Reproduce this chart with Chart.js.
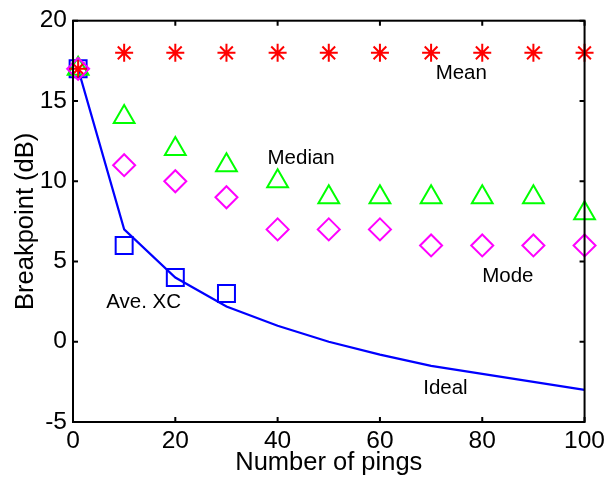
<!DOCTYPE html>
<html>
<head>
<meta charset="utf-8">
<script src="https://cdn.jsdelivr.net/npm/chart.js@4.4.0/dist/chart.umd.min.js"></script>
<style>
  body { margin: 0; background: #fff; }
  #wrap { width: 610px; height: 478px; }
</style>
</head>
<body>
<div id="wrap"><canvas id="breakChart" width="610" height="478"></canvas></div>
<script>
// values
const pings = [1, 10, 20, 30, 40, 50, 60, 70, 80, 90, 100];
const meanVals = [17, 18, 18, 18, 18, 18, 18, 18, 18, 18, 18];
const medianVals = [17, 14, 12, 11, 10, 9, 9, 9, 9, 9, 8];
const modeVals = [17, 11, 10, 9, 7, 7, 7, 6, 6, 6, 6];
const aveXcPings = [1, 10, 20, 30];
const aveXcVals = [17, 6, 4, 3];
const idealVals = [17, 7, 4, 2.2, 1, 0, -0.8, -1.5, -2, -2.5, -3];

const xTicks = [0, 20, 40, 60, 80, 100];
const yTicks = [-5, 0, 5, 10, 15, 20];

// text labels placed in data coordinates
const notes = [
    { text: 'Mean', x: 75.9, y: 16.7 },
    { text: 'Median', x: 44.6, y: 11.45 },
    { text: 'Mode', x: 85, y: 4.05 },
    { text: 'Ave. XC', x: 13.8, y: 2.45 },
    { text: 'Ideal', x: 72.8, y: -2.9 }
];

function pts(xs, ys) {
    return xs.map((x, i) => ({ x: x, y: ys[i] }));
}

const FONT = "'Liberation Sans', Arial, sans-serif";

// box + inward ticks, MATLAB style
const boxPlugin = {
    id: 'box',
    afterDatasetsDraw(chart) {
        const { ctx, chartArea: a, scales } = chart;
        ctx.save();
        ctx.strokeStyle = '#000';
        ctx.lineWidth = 2;
        ctx.beginPath();
        xTicks.forEach(v => {
            const px = scales.x.getPixelForValue(v);
            ctx.moveTo(px, a.bottom); ctx.lineTo(px, a.bottom - 5);
            ctx.moveTo(px, a.top); ctx.lineTo(px, a.top + 5);
        });
        yTicks.forEach(v => {
            const py = scales.y.getPixelForValue(v);
            ctx.moveTo(a.left, py); ctx.lineTo(a.left + 5, py);
            ctx.moveTo(a.right, py); ctx.lineTo(a.right - 5, py);
        });
        ctx.stroke();
        ctx.strokeRect(a.left, a.top, a.right - a.left, a.bottom - a.top);

        ctx.fillStyle = '#000';
        ctx.font = '20.5px ' + FONT;
        ctx.textAlign = 'center';
        ctx.textBaseline = 'middle';
        notes.forEach(n => {
            ctx.fillText(n.text, scales.x.getPixelForValue(n.x), scales.y.getPixelForValue(n.y));
        });
        ctx.restore();
    }
};

new Chart(document.getElementById('breakChart'), {
    type: 'scatter',
    data: {
        datasets: [{
            label: 'Mean',
            data: pts(pings, meanVals),
            pointStyle: 'star',
            pointRadius: 9,
            borderColor: '#ff0000',
            backgroundColor: '#ff0000',
            pointBorderWidth: 2,
            order: 2
        }, {
            label: 'Median',
            data: pts(pings, medianVals),
            pointStyle: 'triangle',
            pointRadius: 12,
            borderColor: '#00ff00',
            backgroundColor: 'rgba(0,0,0,0)',
            pointBorderWidth: 2,
            order: 3
        }, {
            label: 'Mode',
            data: pts(pings, modeVals),
            pointStyle: 'rectRot',
            pointRadius: 11,
            borderColor: '#ff00ff',
            backgroundColor: 'rgba(0,0,0,0)',
            pointBorderWidth: 2,
            order: 1
        }, {
            label: 'Ave. XC',
            data: pts(aveXcPings, aveXcVals),
            pointStyle: 'rect',
            pointRadius: 12,
            borderColor: '#0000ff',
            backgroundColor: 'rgba(0,0,0,0)',
            pointBorderWidth: 2,
            order: 4
        }, {
            label: 'Ideal',
            data: pts(pings, idealVals),
            showLine: true,
            pointRadius: 0,
            borderColor: '#0000ff',
            borderWidth: 2.2,
            tension: 0,
            order: 5
        }]
    },
    options: {
        responsive: false,
        animation: false,
        clip: false,
        layout: { padding: { left: 0, top: 16, right: 23, bottom: 0 } },
        scales: {
            x: {
                type: 'linear',
                min: 0,
                max: 100,
                afterFit: s => { s.height = 56; },
                afterBuildTicks: s => { s.ticks = xTicks.map(v => ({ value: v })); },
                ticks: { color: '#000', padding: 5, font: { family: FONT, size: 24.5 } },
                grid: { display: false, drawTicks: false },
                border: { display: false },
                title: {
                    display: true,
                    text: 'Number of pings',
                    color: '#000',
                    font: { family: FONT, size: 25.5 },
                    padding: { top: 0, bottom: 0 }
                }
            },
            y: {
                min: -5,
                max: 20,
                afterFit: s => { s.width = 73; },
                afterBuildTicks: s => { s.ticks = yTicks.map(v => ({ value: v })); },
                ticks: { color: '#000', padding: 6, font: { family: FONT, size: 24.5 } },
                grid: { display: false, drawTicks: false },
                border: { display: false },
                title: {
                    display: true,
                    text: 'Breakpoint (dB)',
                    color: '#000',
                    font: { family: FONT, size: 25.5 },
                    padding: { top: 11, bottom: 0 }
                }
            }
        },
        plugins: {
            legend: { display: false },
            tooltip: { enabled: false }
        }
    },
    plugins: [boxPlugin]
});
</script>
</body>
</html>
